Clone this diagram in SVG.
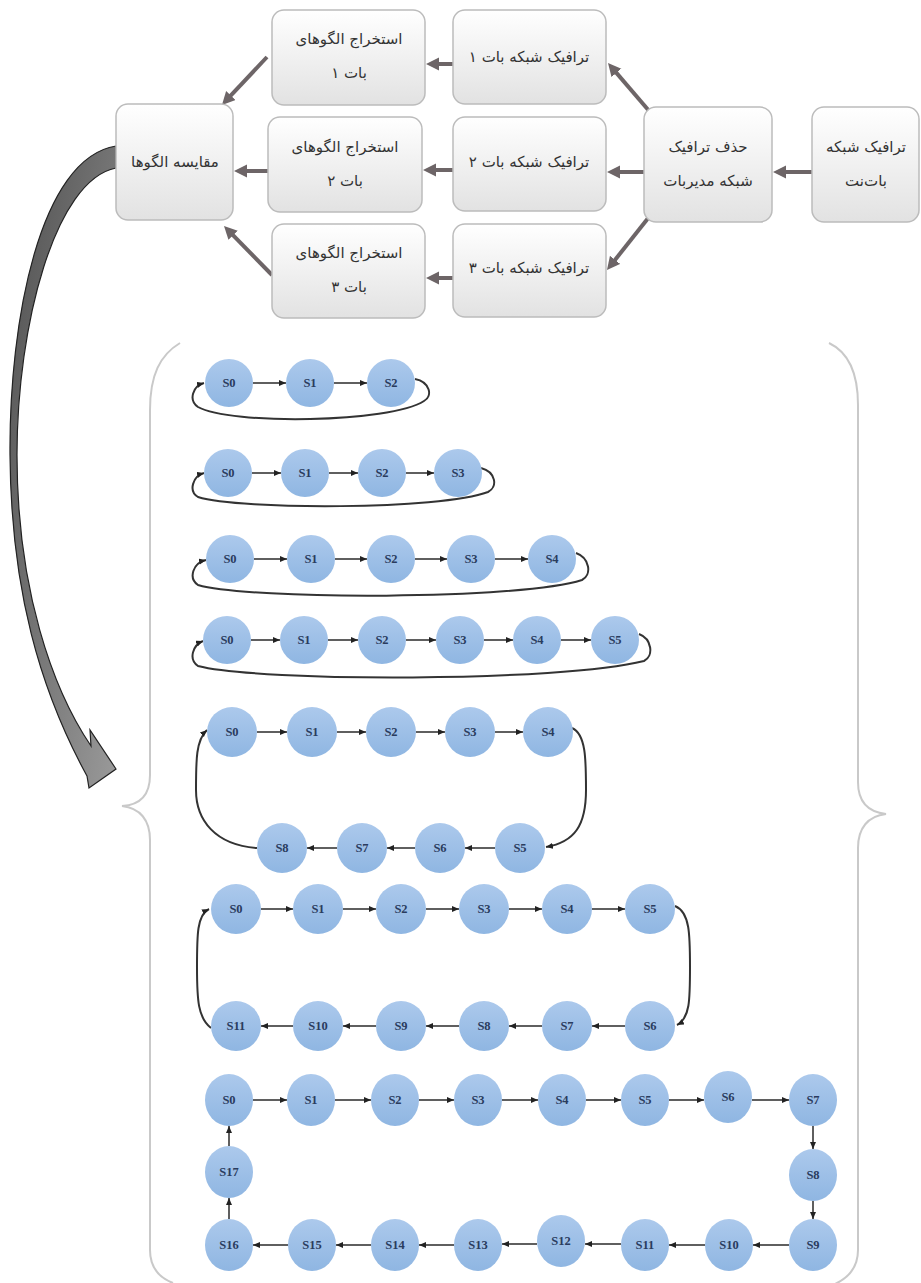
<svg xmlns="http://www.w3.org/2000/svg" width="921" height="1283" viewBox="0 0 921 1283">
<defs>
<linearGradient id="boxg" x1="0" y1="0" x2="0" y2="1"><stop offset="0" stop-color="#ffffff"/><stop offset="1" stop-color="#e2e2e2"/></linearGradient>
<linearGradient id="cg" x1="0" y1="0" x2="0" y2="1"><stop offset="0" stop-color="#acc9ec"/><stop offset="1" stop-color="#8fb6e2"/></linearGradient>
<linearGradient id="ag" x1="0" y1="0" x2="1" y2="1"><stop offset="0" stop-color="#4f4f4f"/><stop offset="1" stop-color="#9a9a9a"/></linearGradient>
<marker id="big" markerUnits="userSpaceOnUse" markerWidth="14" markerHeight="14" refX="3" refY="6.5" orient="auto"><path d="M0,0 L13,6.5 L0,13 Z" fill="#6d6567"/></marker>
<marker id="sm" markerUnits="userSpaceOnUse" markerWidth="8" markerHeight="7" refX="7" refY="3" orient="auto"><path d="M0,0 L7,3 L0,6 Z" fill="#222"/></marker>
<style>
.box{fill:url(#boxg);stroke:#bcbcbc;stroke-width:1.5}
.bt{font-family:"DejaVu Sans",sans-serif;font-size:15px;fill:#333;text-anchor:middle}
.c{fill:url(#cg)}
.ct{font-family:"Liberation Serif",serif;font-weight:bold;font-size:12.5px;fill:#2a3c5e;text-anchor:middle;dominant-baseline:central}
.ba{stroke:#6d6567;stroke-width:4;fill:none;marker-end:url(#big)}
.sa{stroke:#2a2a2a;stroke-width:1.5;fill:none;marker-end:url(#sm)}
.lp{stroke:#333;stroke-width:2;fill:none;marker-end:url(#sm)}
.br{stroke:#c9c9c9;stroke-width:2;fill:none}
</style>
</defs>
<rect width="921" height="1283" fill="#ffffff"/>

<g id="braces">
<path class="br" d="M180,343 C160,355 150,375 150,410 L150,775 C150,795 140,805 122,806 C140,808 150,820 150,840 L150,1250 C150,1268 160,1278 173,1283"/>
<path class="br" d="M829,343 C848,352 858,372 858,405 L858,782 C858,802 868,812 886,814 C868,816 858,828 858,848 L858,1250 C858,1268 848,1278 835,1284"/>
</g>

<g id="connectors">
<line class="ba" x1="812" y1="172" x2="783" y2="172"/>
<line class="ba" x1="644" y1="172" x2="617" y2="172"/>
<line class="ba" x1="650" y1="112" x2="614.5" y2="70.6"/>
<line class="ba" x1="649" y1="217" x2="613.2" y2="262.2"/>
<line class="ba" x1="453" y1="64" x2="436" y2="64"/>
<line class="ba" x1="453" y1="170" x2="433" y2="170"/>
<line class="ba" x1="453" y1="278" x2="436" y2="278"/>
<line class="ba" x1="267" y1="57" x2="228.8" y2="97.7"/>
<line class="ba" x1="268" y1="171" x2="244" y2="171"/>
<line class="ba" x1="272" y1="275" x2="231" y2="233.1"/>
<path id="big-arrow" d="M116,146 C40,158 9,320 10,455 C11,590 40,690 87,776 L89,788 L116,769 L90,730 L91,746 C53,690 17,590 17,455 C17,325 55,180 116,168 Z" fill="url(#ag)" stroke="#222" stroke-width="1.2"/>
<!-- row1 -->
<line class="sa" x1="253" y1="383" x2="286" y2="383"/>
<line class="sa" x1="334" y1="383" x2="367" y2="383"/>
<path class="lp" d="M415,379 C430,382 433,396 424,401 C390,423 230,425 198,407 C188,400 193,386 204,383"/>
<!-- row2 -->
<line class="sa" x1="252" y1="473" x2="281" y2="473"/>
<line class="sa" x1="329" y1="473" x2="358" y2="473"/>
<line class="sa" x1="406" y1="473" x2="434" y2="473"/>
<path class="lp" d="M481,468 C496,472 498,487 488,492 C440,510 240,510 198,497 C188,491 193,476 204,473"/>
<!-- row3 -->
<line class="sa" x1="254" y1="559" x2="287" y2="559"/>
<line class="sa" x1="335" y1="559" x2="367" y2="559"/>
<line class="sa" x1="415" y1="559" x2="447" y2="559"/>
<line class="sa" x1="495" y1="559" x2="528" y2="559"/>
<path class="lp" d="M576,553 C590,558 592,575 582,580 C520,600 250,600 198,585 C188,578 193,563 206,560"/>
<!-- row4 -->
<line class="sa" x1="251" y1="640" x2="280" y2="640"/>
<line class="sa" x1="328" y1="640" x2="358" y2="640"/>
<line class="sa" x1="406" y1="640" x2="436" y2="640"/>
<line class="sa" x1="484" y1="640" x2="513" y2="640"/>
<line class="sa" x1="561" y1="640" x2="591" y2="640"/>
<path class="lp" d="M639,634 C652,639 654,656 644,661 C560,682 260,682 198,666 C188,659 193,645 203,641"/>
<!-- row5 -->
<line class="sa" x1="257" y1="732" x2="287" y2="732"/>
<line class="sa" x1="337" y1="732" x2="366" y2="732"/>
<line class="sa" x1="416" y1="732" x2="445" y2="732"/>
<line class="sa" x1="495" y1="732" x2="523" y2="732"/>
<line class="sa" x1="495" y1="848" x2="465" y2="848"/>
<line class="sa" x1="415" y1="848" x2="387" y2="848"/>
<line class="sa" x1="337" y1="848" x2="307" y2="848"/>
<path class="lp" d="M572,728 C586,734 586,760 586,790 C586,825 575,842 546,847"/>
<path class="lp" d="M257,848 C215,845 196,820 196,790 C196,760 196,740 207,730"/>
<!-- row6 -->
<line class="sa" x1="261" y1="909" x2="293" y2="909"/>
<line class="sa" x1="343" y1="909" x2="376" y2="909"/>
<line class="sa" x1="426" y1="909" x2="459" y2="909"/>
<line class="sa" x1="509" y1="909" x2="542" y2="909"/>
<line class="sa" x1="592" y1="909" x2="625" y2="909"/>
<line class="sa" x1="625" y1="1026" x2="592" y2="1026"/>
<line class="sa" x1="542" y1="1026" x2="509" y2="1026"/>
<line class="sa" x1="459" y1="1026" x2="426" y2="1026"/>
<line class="sa" x1="376" y1="1026" x2="343" y2="1026"/>
<line class="sa" x1="293" y1="1026" x2="261" y2="1026"/>
<path class="lp" d="M675,906 C690,912 690,935 690,967 C690,1000 690,1018 677,1025"/>
<path class="lp" d="M211,1028 C198,1018 197,1000 197,967 C197,935 197,915 209,909"/>
<!-- row7 -->
<line class="sa" x1="253" y1="1100" x2="287" y2="1100"/>
<line class="sa" x1="335" y1="1100" x2="371" y2="1100"/>
<line class="sa" x1="419" y1="1100" x2="454" y2="1100"/>
<line class="sa" x1="502" y1="1100" x2="538" y2="1100"/>
<line class="sa" x1="586" y1="1100" x2="621" y2="1100"/>
<line class="sa" x1="669" y1="1100" x2="704" y2="1100"/>
<line class="sa" x1="752" y1="1100" x2="789" y2="1100"/>
<line class="sa" x1="813" y1="1126" x2="813" y2="1149"/>
<line class="sa" x1="813" y1="1201" x2="813" y2="1219"/>
<line class="sa" x1="789" y1="1245" x2="753" y2="1245"/>
<line class="sa" x1="705" y1="1245" x2="669" y2="1245"/>
<line class="sa" x1="621" y1="1244" x2="585" y2="1244"/>
<line class="sa" x1="537" y1="1244" x2="502" y2="1244"/>
<line class="sa" x1="454" y1="1245" x2="419" y2="1245"/>
<line class="sa" x1="371" y1="1245" x2="336" y2="1245"/>
<line class="sa" x1="288" y1="1245" x2="253" y2="1245"/>
<line class="sa" x1="229" y1="1219" x2="229" y2="1198"/>
<line class="sa" x1="229" y1="1146" x2="229" y2="1126"/>
</g>

<!-- top boxes -->
<g id="botnet-traffic"><rect class="box" x="812" y="107" width="107" height="115" rx="12"/><text class="bt" x="866" y="152">ترافیک شبکه</text><text class="bt" x="866" y="186">بات‌نت</text></g>
<g id="remove-cc"><rect class="box" x="644" y="107" width="128" height="115" rx="12"/><text class="bt" x="708" y="152">حذف ترافیک</text><text class="bt" x="708" y="186">شبکه مدیربات</text></g>
<g id="bot1-traffic"><rect class="box" x="453" y="10" width="153" height="94" rx="12"/><text class="bt" x="529" y="62">ترافیک شبکه بات ۱</text></g>
<g id="bot2-traffic"><rect class="box" x="453" y="117" width="153" height="94" rx="12"/><text class="bt" x="529" y="167">ترافیک شبکه بات ۲</text></g>
<g id="bot3-traffic"><rect class="box" x="453" y="224" width="153" height="93" rx="12"/><text class="bt" x="529" y="273">ترافیک شبکه بات ۳</text></g>
<g id="extract1"><rect class="box" x="272" y="10" width="153" height="95" rx="12"/><text class="bt" x="349" y="44">استخراج الگوهای</text><text class="bt" x="349" y="78">بات ۱</text></g>
<g id="extract2"><rect class="box" x="268" y="117" width="154" height="95" rx="12"/><text class="bt" x="345" y="152">استخراج الگوهای</text><text class="bt" x="345" y="186">بات ۲</text></g>
<g id="extract3"><rect class="box" x="272" y="224" width="153" height="94" rx="12"/><text class="bt" x="349" y="258">استخراج الگوهای</text><text class="bt" x="349" y="292">بات ۳</text></g>
<g id="compare"><rect class="box" x="116" y="104" width="117" height="116" rx="12"/><text class="bt" x="175" y="167">مقایسه الگوها</text></g>

<!-- row 1 -->
<g id="r1-s0"><circle class="c" cx="229" cy="383" r="24"/><text class="ct" x="229" y="383">S0</text></g>
<g id="r1-s1"><circle class="c" cx="310" cy="383" r="24"/><text class="ct" x="310" y="383">S1</text></g>
<g id="r1-s2"><circle class="c" cx="391" cy="383" r="24"/><text class="ct" x="391" y="383">S2</text></g>
<!-- row 2 -->
<g id="r2-s0"><circle class="c" cx="228" cy="473" r="24"/><text class="ct" x="228" y="473">S0</text></g>
<g id="r2-s1"><circle class="c" cx="305" cy="473" r="24"/><text class="ct" x="305" y="473">S1</text></g>
<g id="r2-s2"><circle class="c" cx="382" cy="473" r="24"/><text class="ct" x="382" y="473">S2</text></g>
<g id="r2-s3"><circle class="c" cx="458" cy="473" r="24"/><text class="ct" x="458" y="473">S3</text></g>
<!-- row 3 -->
<g id="r3-s0"><circle class="c" cx="230" cy="559" r="24"/><text class="ct" x="230" y="559">S0</text></g>
<g id="r3-s1"><circle class="c" cx="311" cy="559" r="24"/><text class="ct" x="311" y="559">S1</text></g>
<g id="r3-s2"><circle class="c" cx="391" cy="559" r="24"/><text class="ct" x="391" y="559">S2</text></g>
<g id="r3-s3"><circle class="c" cx="471" cy="559" r="24"/><text class="ct" x="471" y="559">S3</text></g>
<g id="r3-s4"><circle class="c" cx="552" cy="559" r="24"/><text class="ct" x="552" y="559">S4</text></g>
<!-- row 4 -->
<g id="r4-s0"><circle class="c" cx="227" cy="640" r="24"/><text class="ct" x="227" y="640">S0</text></g>
<g id="r4-s1"><circle class="c" cx="304" cy="640" r="24"/><text class="ct" x="304" y="640">S1</text></g>
<g id="r4-s2"><circle class="c" cx="382" cy="640" r="24"/><text class="ct" x="382" y="640">S2</text></g>
<g id="r4-s3"><circle class="c" cx="460" cy="640" r="24"/><text class="ct" x="460" y="640">S3</text></g>
<g id="r4-s4"><circle class="c" cx="537" cy="640" r="24"/><text class="ct" x="537" y="640">S4</text></g>
<g id="r4-s5"><circle class="c" cx="615" cy="640" r="24"/><text class="ct" x="615" y="640">S5</text></g>
<!-- row 5 -->
<g id="r5-s0"><circle class="c" cx="232" cy="732" r="25"/><text class="ct" x="232" y="732">S0</text></g>
<g id="r5-s1"><circle class="c" cx="312" cy="732" r="25"/><text class="ct" x="312" y="732">S1</text></g>
<g id="r5-s2"><circle class="c" cx="391" cy="732" r="25"/><text class="ct" x="391" y="732">S2</text></g>
<g id="r5-s3"><circle class="c" cx="470" cy="732" r="25"/><text class="ct" x="470" y="732">S3</text></g>
<g id="r5-s4"><circle class="c" cx="548" cy="732" r="25"/><text class="ct" x="548" y="732">S4</text></g>
<g id="r5-s5"><circle class="c" cx="520" cy="848" r="25"/><text class="ct" x="520" y="848">S5</text></g>
<g id="r5-s6"><circle class="c" cx="440" cy="848" r="25"/><text class="ct" x="440" y="848">S6</text></g>
<g id="r5-s7"><circle class="c" cx="362" cy="848" r="25"/><text class="ct" x="362" y="848">S7</text></g>
<g id="r5-s8"><circle class="c" cx="282" cy="848" r="25"/><text class="ct" x="282" y="848">S8</text></g>
<!-- row 6 -->
<g id="r6-s0"><circle class="c" cx="236" cy="909" r="25"/><text class="ct" x="236" y="909">S0</text></g>
<g id="r6-s1"><circle class="c" cx="318" cy="909" r="25"/><text class="ct" x="318" y="909">S1</text></g>
<g id="r6-s2"><circle class="c" cx="401" cy="909" r="25"/><text class="ct" x="401" y="909">S2</text></g>
<g id="r6-s3"><circle class="c" cx="484" cy="909" r="25"/><text class="ct" x="484" y="909">S3</text></g>
<g id="r6-s4"><circle class="c" cx="567" cy="909" r="25"/><text class="ct" x="567" y="909">S4</text></g>
<g id="r6-s5"><circle class="c" cx="650" cy="909" r="25"/><text class="ct" x="650" y="909">S5</text></g>
<g id="r6-s6"><circle class="c" cx="650" cy="1026" r="25"/><text class="ct" x="650" y="1026">S6</text></g>
<g id="r6-s7"><circle class="c" cx="567" cy="1026" r="25"/><text class="ct" x="567" y="1026">S7</text></g>
<g id="r6-s8"><circle class="c" cx="484" cy="1026" r="25"/><text class="ct" x="484" y="1026">S8</text></g>
<g id="r6-s9"><circle class="c" cx="401" cy="1026" r="25"/><text class="ct" x="401" y="1026">S9</text></g>
<g id="r6-s10"><circle class="c" cx="318" cy="1026" r="25"/><text class="ct" x="318" y="1026">S10</text></g>
<g id="r6-s11"><circle class="c" cx="236" cy="1026" r="25"/><text class="ct" x="236" y="1026">S11</text></g>
<!-- row 7 -->
<g id="r7-s0"><ellipse class="c" cx="229" cy="1100" rx="24" ry="26"/><text class="ct" x="229" y="1100">S0</text></g>
<g id="r7-s1"><ellipse class="c" cx="311" cy="1100" rx="24" ry="26"/><text class="ct" x="311" y="1100">S1</text></g>
<g id="r7-s2"><ellipse class="c" cx="395" cy="1100" rx="24" ry="26"/><text class="ct" x="395" y="1100">S2</text></g>
<g id="r7-s3"><ellipse class="c" cx="478" cy="1100" rx="24" ry="26"/><text class="ct" x="478" y="1100">S3</text></g>
<g id="r7-s4"><ellipse class="c" cx="562" cy="1100" rx="24" ry="26"/><text class="ct" x="562" y="1100">S4</text></g>
<g id="r7-s5"><ellipse class="c" cx="645" cy="1100" rx="24" ry="26"/><text class="ct" x="645" y="1100">S5</text></g>
<g id="r7-s6"><ellipse class="c" cx="728" cy="1097" rx="24" ry="26"/><text class="ct" x="728" y="1097">S6</text></g>
<g id="r7-s7"><ellipse class="c" cx="813" cy="1100" rx="24" ry="26"/><text class="ct" x="813" y="1100">S7</text></g>
<g id="r7-s8"><ellipse class="c" cx="813" cy="1175" rx="24" ry="26"/><text class="ct" x="813" y="1175">S8</text></g>
<g id="r7-s9"><ellipse class="c" cx="813" cy="1245" rx="24" ry="26"/><text class="ct" x="813" y="1245">S9</text></g>
<g id="r7-s10"><ellipse class="c" cx="729" cy="1245" rx="24" ry="26"/><text class="ct" x="729" y="1245">S10</text></g>
<g id="r7-s11"><ellipse class="c" cx="645" cy="1245" rx="24" ry="26"/><text class="ct" x="645" y="1245">S11</text></g>
<g id="r7-s12"><ellipse class="c" cx="561" cy="1241" rx="24" ry="26"/><text class="ct" x="561" y="1241">S12</text></g>
<g id="r7-s13"><ellipse class="c" cx="478" cy="1245" rx="24" ry="26"/><text class="ct" x="478" y="1245">S13</text></g>
<g id="r7-s14"><ellipse class="c" cx="395" cy="1245" rx="24" ry="26"/><text class="ct" x="395" y="1245">S14</text></g>
<g id="r7-s15"><ellipse class="c" cx="312" cy="1245" rx="24" ry="26"/><text class="ct" x="312" y="1245">S15</text></g>
<g id="r7-s16"><ellipse class="c" cx="229" cy="1245" rx="24" ry="26"/><text class="ct" x="229" y="1245">S16</text></g>
<g id="r7-s17"><ellipse class="c" cx="229" cy="1172" rx="24" ry="26"/><text class="ct" x="229" y="1172">S17</text></g>
</svg>
